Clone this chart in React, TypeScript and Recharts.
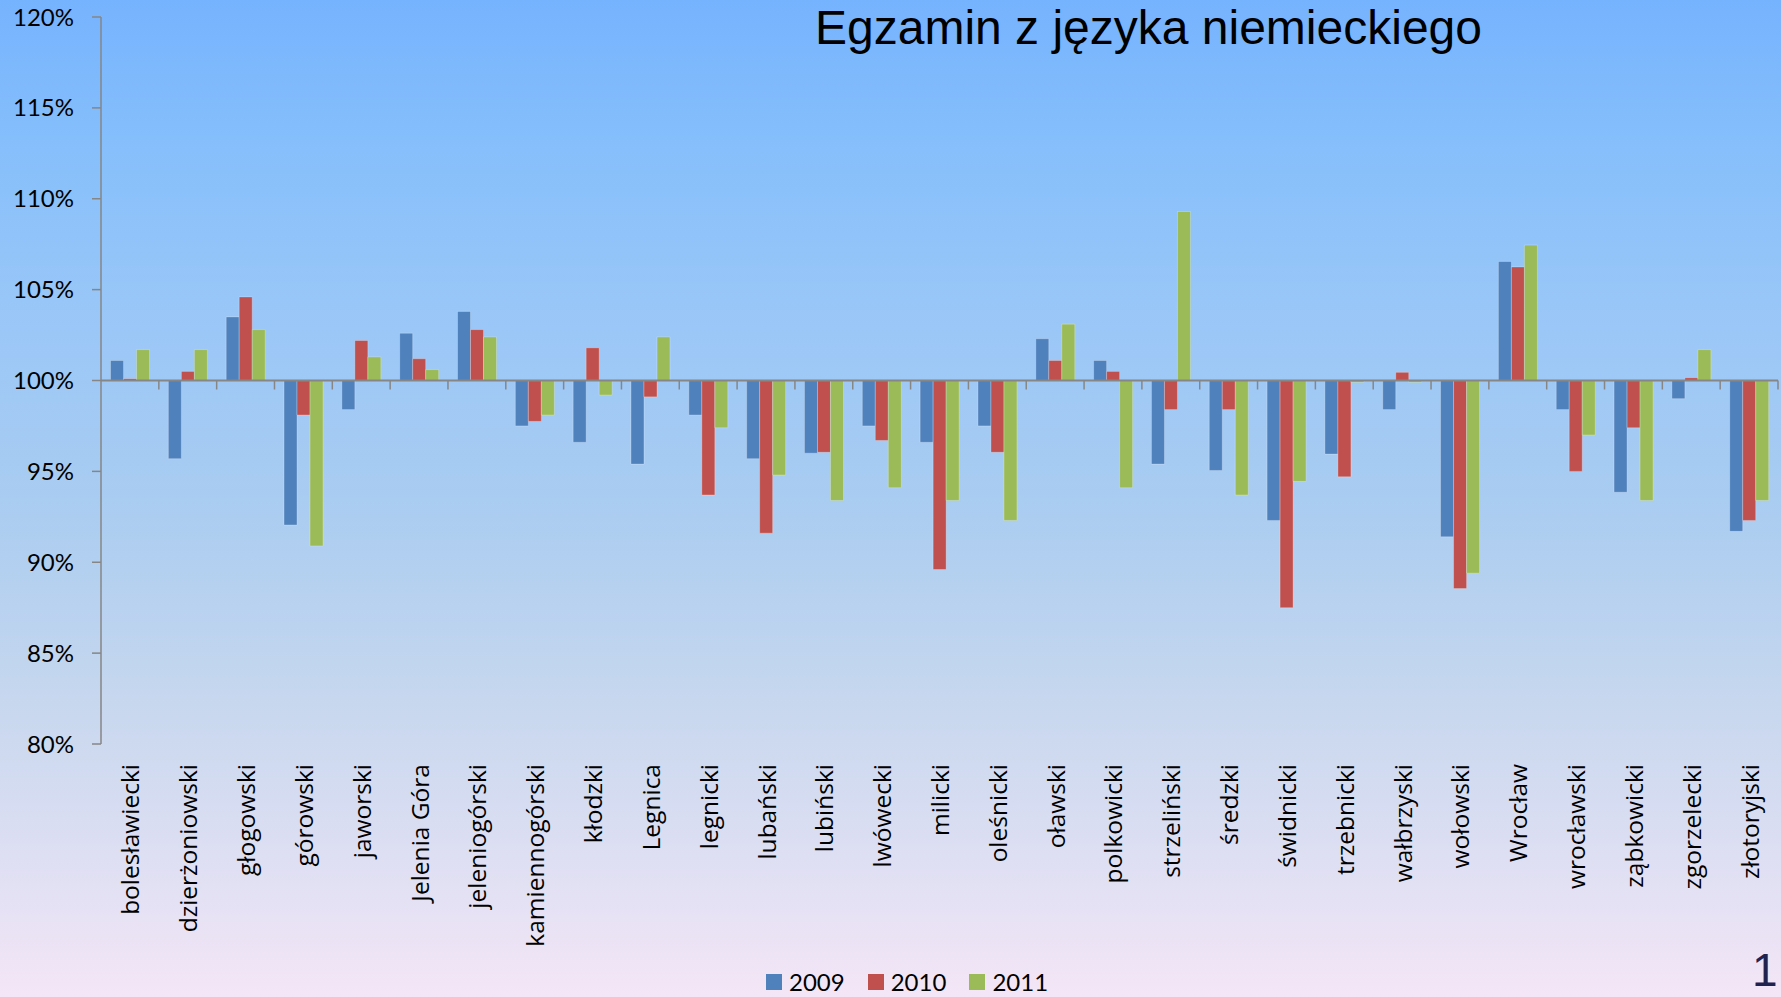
import React from 'react';
import { BarChart, Bar, XAxis, YAxis, ReferenceLine, Legend } from 'recharts';

// powiaty (districts) in display order
const districts = [
  'bolesławiecki', 'dzierżoniowski', 'głogowski', 'górowski', 'jaworski',
  'Jelenia Góra', 'jeleniogórski', 'kamiennogórski', 'kłodzki', 'Legnica',
  'legnicki', 'lubański', 'lubiński', 'lwówecki', 'milicki', 'oleśnicki',
  'oławski', 'polkowicki', 'strzeliński', 'średzki', 'świdnicki',
  'trzebnicki', 'wałbrzyski', 'wołowski', 'Wrocław', 'wrocławski',
  'ząbkowicki', 'zgorzelecki', 'złotoryjski',
];

// results relative to the regional average, in %
const y2009 = [
  101.1, 95.7, 103.5, 92.05, 98.4, 102.6, 103.8, 97.5, 96.6, 95.4,
  98.1, 95.7, 96.0, 97.5, 96.6, 97.5, 102.3, 101.1, 95.4, 95.05,
  92.3, 95.95, 98.4, 91.4, 106.55, 98.4, 93.85, 99.0, 91.7,
];
const y2010 = [
  100.1, 100.5, 104.6, 98.1, 102.2, 101.2, 102.8, 97.75, 101.8, 99.1,
  93.7, 91.6, 96.05, 96.7, 89.6, 96.05, 101.1, 100.5, 98.4, 98.4,
  87.5, 94.7, 100.45, 88.55, 106.25, 95.0, 97.4, 100.15, 92.3,
];
const y2011 = [
  101.7, 101.7, 102.8, 90.9, 101.3, 100.6, 102.4, 98.1, 99.2, 102.4,
  97.4, 94.8, 93.4, 94.1, 93.4, 92.3, 103.1, 94.1, 109.3, 93.7,
  94.45, 99.9, 99.9, 89.4, 107.45, 97.0, 93.4, 101.7, 93.4,
];

const yTicks = [80, 85, 90, 95, 100, 105, 110, 115, 120];
const BASE = 100;

const series = [
  { key: 'v2009', name: '2009', color: '#4F81BD' },
  { key: 'v2010', name: '2010', color: '#C0504D' },
  { key: 'v2011', name: '2011', color: '#9BBB59' },
];

// bars hang from the 100% line, so store deviation from it
const rows = districts.map((name, i) => ({
  name,
  v2009: y2009[i] - BASE,
  v2010: y2010[i] - BASE,
  v2011: y2011[i] - BASE,
}));

const W = 1781;
const H = 997;
const PLOT_LEFT = 101;
const PLOT_RIGHT = 1778;
const PLOT_TOP = 17;
const PLOT_BOTTOM = 744;
const LEGEND_H = 30;
const ZERO_Y = (PLOT_TOP + PLOT_BOTTOM) / 2;
const BAND = (PLOT_RIGHT - PLOT_LEFT) / districts.length;
const AXIS_GRAY = '#868686';

const CategoryTick = (props: any) => {
  const { x, payload } = props;
  const ly = PLOT_BOTTOM + 20;
  return (
    <g>
      <line x1={x + BAND / 2} x2={x + BAND / 2} y1={ZERO_Y} y2={ZERO_Y + 9} stroke={AXIS_GRAY} strokeWidth={1.5} />
      <text
        x={x}
        y={ly}
        transform={`rotate(-90, ${x}, ${ly})`}
        textAnchor="end"
        dominantBaseline="central"
        fill="#000"
        style={{ fontFamily: '"Open Sans", sans-serif', fontSize: 24.5 }}
      >
        {payload.value}
      </text>
    </g>
  );
};

const LegendContent = () => (
  <div style={{ display: 'flex', alignItems: 'center', height: LEGEND_H, fontFamily: 'Lato, sans-serif' }}>
    {series.map((s) => (
      <div key={s.key} style={{ display: 'flex', alignItems: 'center', marginRight: 23 }}>
        <div style={{ width: 16, height: 16, background: s.color, marginRight: 7 }} />
        <span style={{ fontSize: 24, color: '#000', lineHeight: '30px' }}>{s.name}</span>
      </div>
    ))}
  </div>
);

export default function App() {
  return (
    <div
      style={{
        position: 'absolute',
        left: 0,
        top: 0,
        width: W,
        height: H,
        overflow: 'hidden',
        background:
          'linear-gradient(to bottom, #76B3FE 0%, #86BFFB 15%, #98C6F8 30%, #A9CCF1 50%, #C6D7EE 70%, #E4E1F4 90%, #F4E6F6 100%)',
      }}
    >
      <div
        style={{
          position: 'absolute',
          left: 815,
          top: 4,
          fontFamily: '"Liberation Sans", Arial, sans-serif',
          fontSize: 48,
          lineHeight: '48px',
          color: '#000',
          whiteSpace: 'nowrap',
        }}
      >
        Egzamin z języka niemieckiego
      </div>

      <BarChart
        width={W}
        height={H}
        data={rows}
        margin={{ top: PLOT_TOP, right: W - PLOT_RIGHT, left: 0, bottom: 0 }}
        barCategoryGap="16.5%"
        barGap={0}
        style={{ position: 'absolute', left: 0, top: 0 }}
      >
        <YAxis
          width={PLOT_LEFT}
          domain={[yTicks[0] - BASE, yTicks[yTicks.length - 1] - BASE]}
          ticks={yTicks.map((t) => t - BASE)}
          tickFormatter={(v: number) => `${Math.round(v + BASE)}%`}
          allowDataOverflow
          axisLine={{ stroke: AXIS_GRAY, strokeWidth: 1.5 }}
          tickLine={{ stroke: AXIS_GRAY, strokeWidth: 1.5 }}
          tickSize={9}
          tickMargin={18}
          tick={{ fill: '#000', fontSize: 24, fontFamily: 'Lato, sans-serif' }}
        />
        <XAxis
          dataKey="name"
          height={H - PLOT_BOTTOM - LEGEND_H}
          axisLine={false}
          tickLine={false}
          interval={0}
          tick={<CategoryTick />}
        />
        {series.map((s) => (
          <Bar
            key={s.key}
            dataKey={s.key}
            name={s.name}
            fill={s.color}
            stroke="rgba(255,255,255,0.25)"
            strokeWidth={1}
            isAnimationActive={false}
          />
        ))}
        <ReferenceLine y={0} stroke={AXIS_GRAY} strokeWidth={2} />
        <Legend
          verticalAlign="bottom"
          align="left"
          wrapperStyle={{ left: 766, bottom: 0, width: 400, height: LEGEND_H }}
          content={<LegendContent />}
        />
      </BarChart>

      <div
        style={{
          position: 'absolute',
          left: 1752,
          top: 944,
          fontFamily: '"Liberation Sans", Arial, sans-serif',
          fontSize: 46,
          lineHeight: '52px',
          color: '#1F2350',
        }}
      >
        1
      </div>
    </div>
  );
}
